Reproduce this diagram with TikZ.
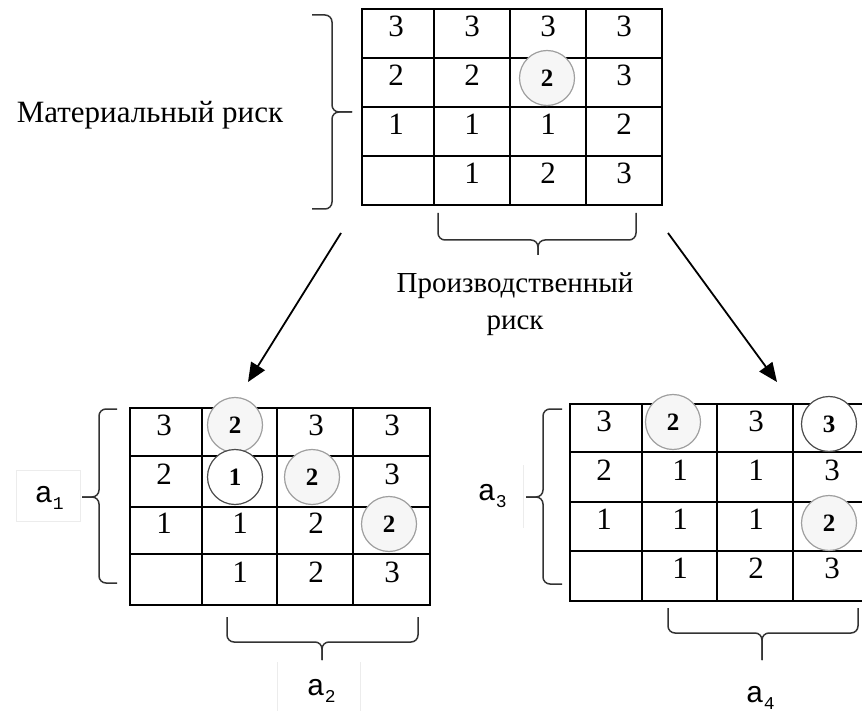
\documentclass[tikz,border=0pt]{standalone}
\usepackage{fontspec}
\setmainfont{Liberation Serif}
\newfontfamily\labfont{Liberation Mono}
\usetikzlibrary{arrows.meta}

% a_i labels beside the small tables
\newcommand{\alab}[1]{{\labfont\fontsize{30}{30}\selectfont a}\raisebox{-7pt}{\labfont\fontsize{18}{18}\selectfont #1}}

\begin{document}
\begin{tikzpicture}[
        x=1pt, y=-1pt,
        line width=1.6pt,
        num/.style={inner sep=0pt, font=\fontsize{31}{31}\selectfont},
        ring/.style={circle, minimum size=55pt, inner sep=0pt, line width=1.2pt,
            draw=gray!75, fill=gray!7, font=\bfseries\fontsize{25}{25}\selectfont},
        ringw/.style={ring, draw=black!70, fill=white},
        brk/.style={line width=1.5pt, draw=black!80, rounded corners=7pt},
        lbl/.style={inner sep=0pt, font=\fontsize{31}{31}\selectfont},
        lead/.style={line width=1.8pt, -{Triangle[length=19pt,width=16pt]}},
        faint/.style={draw=gray!15, line width=1pt}
    ]
        \clip (0,0) rectangle (862,711);

        % upper table
        \begin{scope}[shift={(362,9)}]
            \draw (0,0) rectangle (300,196);
            \foreach \gx in {72,148,224} \draw (\gx,0) -- (\gx,196);
            \foreach \gy in {49,98,147} \draw (0,\gy) -- (300,\gy);
            \foreach \row [count=\r] in {{3,3,3,3},{2,2,,3},{1,1,1,2},{,1,2,3}}
                \foreach \v [count=\c] in \row
                    \node[num] (top-\r-\c) at ({76*\c-42},{49*\r-32}) {\v};
            \node[ring] (top-c) at (185,69) {2};
        \end{scope}

        % left table
        \begin{scope}[shift={(130,408)}]
            \draw (0,0) rectangle (300,197);
            \foreach \gx in {72,147,223} \draw (\gx,0) -- (\gx,197);
            \foreach \gy in {48,99,146} \draw (0,\gy) -- (300,\gy);
            \foreach \row [count=\r] in {{3,,3,3},{2,,,3},{1,1,2,},{,1,2,3}}
                \foreach \v [count=\c] in \row
                    \node[num] (lft-\r-\c) at ({76*\c-42},{49*\r-32}) {\v};
            \node[ring] (lft-c1) at (105,17) {2};
            \node[ringw] (lft-c2) at (105,69) {1};
            \node[ring] (lft-c3) at (182,69) {2};
            \node[ring] (lft-c4) at (259,116) {2};
        \end{scope}

        % right table
        \begin{scope}[shift={(570,404)}]
            \draw (0,0) rectangle (300,197);
            \foreach \gx in {72,147,223} \draw (\gx,0) -- (\gx,197);
            \foreach \gy in {48,98,147} \draw (0,\gy) -- (300,\gy);
            \foreach \row [count=\r] in {{3,,3,},{2,1,1,3},{1,1,1,},{,1,2,3}}
                \foreach \v [count=\c] in \row
                    \node[num] (rgt-\r-\c) at ({76*\c-42},{49*\r-32}) {\v};
            \node[ring] (rgt-c1) at (103,18) {2};
            \node[ringw] (rgt-c2) at (259,20) {3};
            \node[ring] (rgt-c3) at (259,119) {2};
        \end{scope}

        % braces
        \draw[brk] (312,15) -- (332,15) -- (332,112) -- (352,112);
        \draw[brk] (352,112) -- (332,112) -- (332,209) -- (312,209);
        \draw[brk] (438,213) -- (438,240) -- (538,240) -- (538,255);
        \draw[brk] (538,255) -- (538,240) -- (636,240) -- (636,213);

        \draw[brk] (117,409) -- (99,409) -- (99,497) -- (82,497);
        \draw[brk] (82,497) -- (99,497) -- (99,583) -- (117,583);
        \draw[brk] (227,617) -- (227,642) -- (322,642) -- (322,660);
        \draw[brk] (322,660) -- (322,642) -- (418,642) -- (418,617);

        \draw[brk] (562,409) -- (543,409) -- (543,497) -- (526,497);
        \draw[brk] (526,497) -- (543,497) -- (543,584) -- (562,584);
        \draw[brk] (668,608) -- (668,633) -- (762,633) -- (762,660);
        \draw[brk] (762,660) -- (762,633) -- (858,633) -- (858,608);

        % texts
        \node[lbl, anchor=base] (mat) at (150,123) {Материальный риск};
        \node[lbl, font=\fontsize{29}{29}\selectfont, anchor=base] (prod) at (515,293) {Производственный};
        \node[lbl, font=\fontsize{29}{29}\selectfont, anchor=base] (prod-b) at (515,330) {риск};

        \draw[faint] (16,470) rectangle (80,521);
        \draw[faint] (277,662) -- (277,711) (360,662) -- (360,711);
        \draw[faint] (523,465) -- (523,528);

        \node[inner sep=0pt, anchor=base west] (a1) at (34,502) {\alab{1}};
        \node[inner sep=0pt, anchor=base west] (a2) at (306,695) {\alab{2}};
        \node[inner sep=0pt, anchor=base west] (a3) at (477,500) {\alab{3}};
        \node[inner sep=0pt, anchor=base west] (a4) at (745,702) {\alab{4}};

        % arrows down to the two tables
        \coordinate (l-from) at (341,233);
        \coordinate (l-to) at (248,382);
        \coordinate (r-from) at (668,233);
        \coordinate (r-to) at (777,382);
        \draw[lead] (l-from) -- (l-to);
        \draw[lead] (r-from) -- (r-to);
    \end{tikzpicture}
\end{document}
